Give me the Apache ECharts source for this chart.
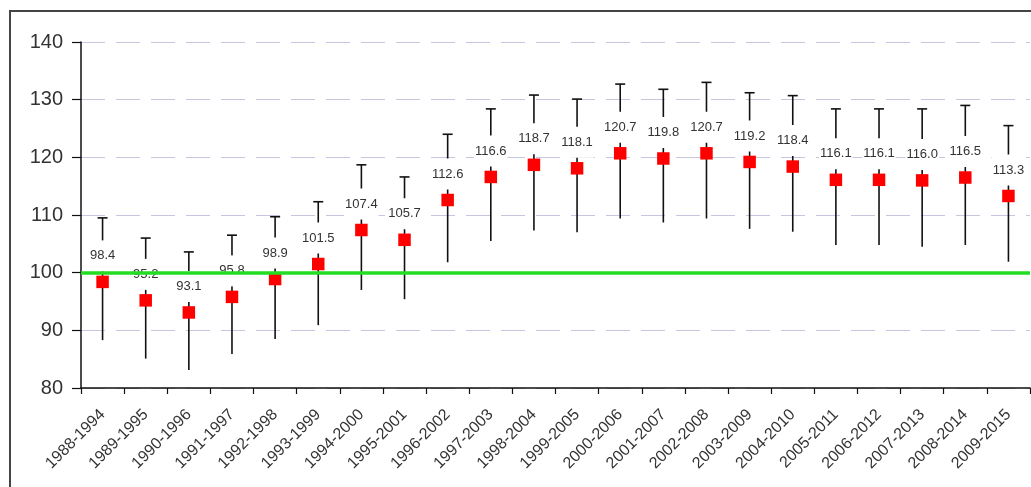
<!DOCTYPE html>
<html>
<head>
<meta charset="utf-8">
<script src="https://cdn.jsdelivr.net/npm/echarts@6/dist/echarts.min.js"></script>
<style>
html,body{margin:0;padding:0;background:#fff;}
#c{width:1031px;height:487px;}
</style>
</head>
<body>
<div id="c"></div>
<script>
const categories = ['1988-1994','1989-1995','1990-1996','1991-1997','1992-1998','1993-1999','1994-2000','1995-2001','1996-2002','1997-2003','1998-2004','1999-2005','2000-2006','2001-2007','2002-2008','2003-2009','2004-2010','2005-2011','2006-2012','2007-2013','2008-2014','2009-2015'];
const values = [98.4, 95.2, 93.1, 95.8, 98.9, 101.5, 107.4, 105.7, 112.6, 116.6, 118.7, 118.1, 120.7, 119.8, 120.7, 119.2, 118.4, 116.1, 116.1, 116.0, 116.5, 113.3];
const upper = [109.5, 106.0, 103.6, 106.5, 109.7, 112.3, 118.7, 116.6, 124.0, 128.4, 130.8, 130.1, 132.7, 131.8, 133.0, 131.2, 130.7, 128.4, 128.4, 128.4, 129.0, 125.5];
const lower = [88.3, 85.1, 83.1, 85.9, 88.5, 90.9, 97.0, 95.4, 101.8, 105.5, 107.3, 107.0, 109.4, 108.7, 109.4, 107.6, 107.1, 104.8, 104.8, 104.5, 104.8, 101.9];
const baseline = 100;
const yMin = 80, yMax = 140, yStep = 10;

const chart = echarts.init(document.getElementById('c'));
const font = '"Liberation Sans", Arial, sans-serif';
chart.setOption({
  animation: false,
  backgroundColor: '#fff',
  grid: { left: 81, right: 1, top: 42, bottom: 99, containLabel: false },
  xAxis: {
    type: 'category',
    data: categories,
    boundaryGap: true,
    axisLine: { lineStyle: { color: '#111', width: 1.5 } },
    axisTick: { show: true, length: 6, interval: 0, lineStyle: { color: '#111', width: 1.2 } },
    axisLabel: { interval: 0, rotate: 45, fontSize: 16, color: '#333', margin: 24, fontFamily: font },
    splitLine: { show: false }
  },
  yAxis: {
    type: 'value',
    min: yMin, max: yMax, interval: yStep,
    axisLine: { show: true, lineStyle: { color: '#111', width: 1.5 } },
    axisTick: { show: true, length: 9, lineStyle: { color: '#111', width: 1.2 } },
    axisLabel: { fontSize: 20, color: '#333', margin: 18, fontFamily: font },
    splitLine: { show: true, lineStyle: { color: '#c6c6de', width: 1.2, type: [24, 11] } }
  },
  graphic: [{
    type: 'rect', z: 100, silent: true,
    shape: { x: 10, y: 11, width: 1100, height: 600 },
    style: { fill: null, stroke: '#444', lineWidth: 2 }
  }],
  series: [
    {
      type: 'custom',
      z: 2,
      silent: true,
      data: categories.map((c, i) => [i, lower[i], upper[i]]),
      encode: { x: 0, y: [1, 2] },
      renderItem: function (params, api) {
        const i = api.value(0);
        const lo = api.coord([i, api.value(1)]);
        const hi = api.coord([i, api.value(2)]);
        const st = { stroke: '#111', lineWidth: 1.6 };
        return {
          type: 'group',
          children: [
            { type: 'line', shape: { x1: hi[0], y1: lo[1], x2: hi[0], y2: hi[1] }, style: st },
            { type: 'line', shape: { x1: hi[0] - 5, y1: hi[1], x2: hi[0] + 5, y2: hi[1] }, style: st }
          ]
        };
      }
    },
    {
      type: 'scatter',
      z: 3,
      symbol: 'rect',
      symbolSize: 12.5,
      itemStyle: { color: '#f00', opacity: 1 },
      emphasis: { disabled: true },
      data: values,
      label: {
        show: true,
        position: 'inside',
        offset: [0, -26],
        formatter: p => p.value.toFixed(1),
        fontSize: 13,
        lineHeight: 14,
        color: '#333',
        opacity: 1,
        fontFamily: font,
        backgroundColor: '#fff',
        padding: [8, 1, 9, 1]
      }
    },
    {
      type: 'line',
      z: 5,
      data: [],
      markLine: {
        silent: true,
        symbol: 'none',
        label: { show: false },
        lineStyle: { color: '#22dd22', width: 3.5, type: 'solid', opacity: 1 },
        data: [{ yAxis: baseline }]
      }
    }
  ]
});
</script>
</body>
</html>
